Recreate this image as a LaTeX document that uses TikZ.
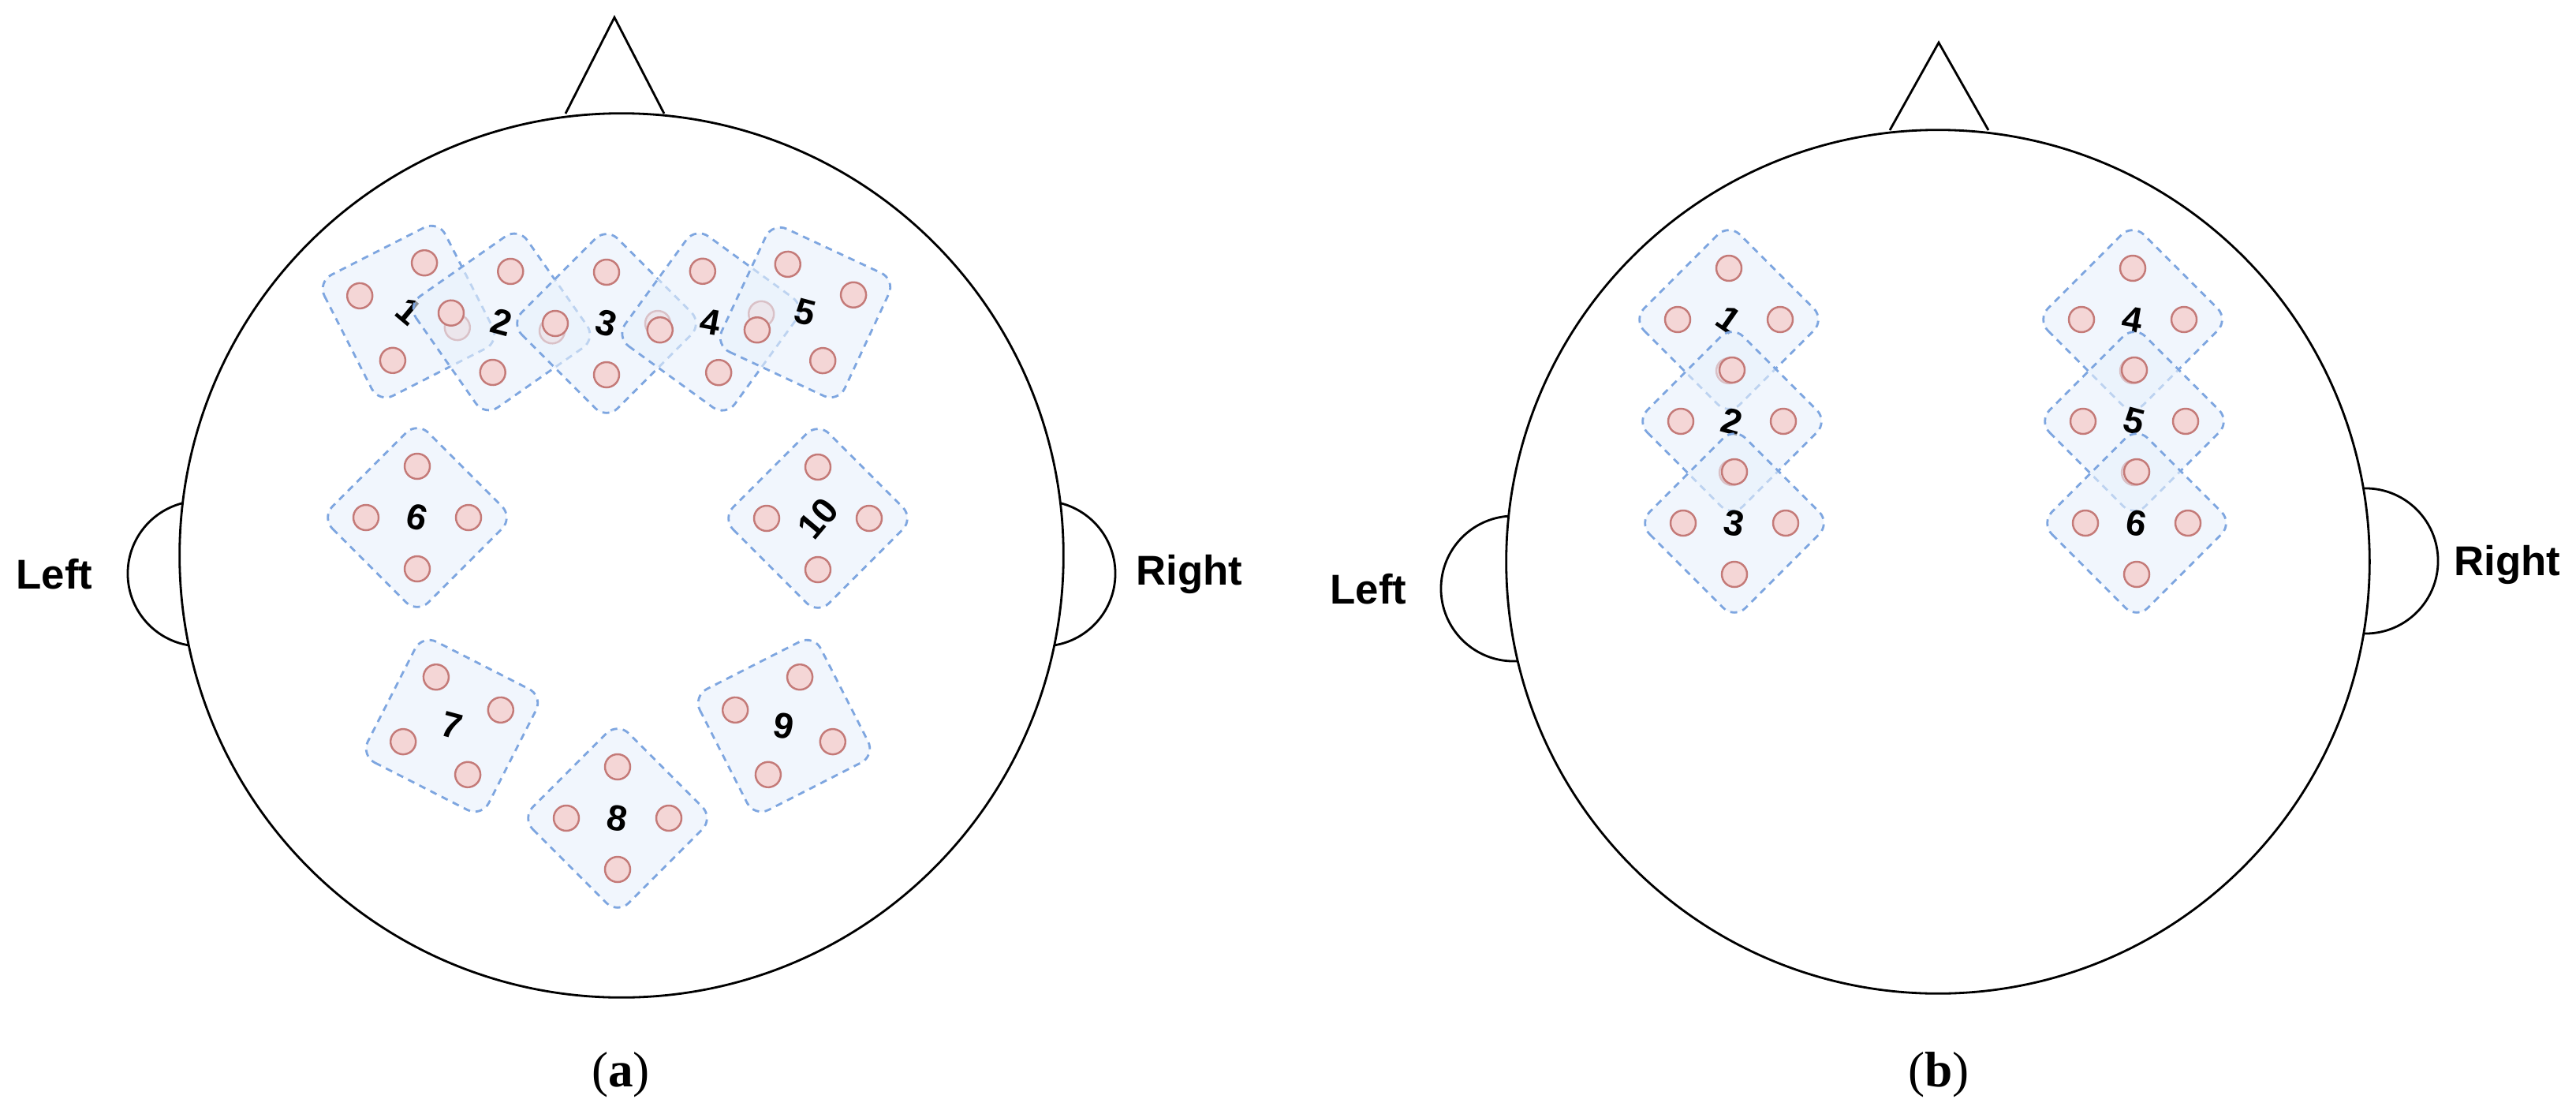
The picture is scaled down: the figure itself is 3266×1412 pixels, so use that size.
\documentclass[tikz,border=0pt]{standalone}
\usepackage{fontspec}
\setmainfont{Liberation Serif}
\newfontfamily\sansb{Liberation Sans}
\usepackage{xcolor}
\definecolor{patchfill}{HTML}{E8F1FC}
\definecolor{patchline}{HTML}{7EA6E0}
\definecolor{optfill}{HTML}{F4D6D6}
\definecolor{optline}{HTML}{C47A78}
\tikzset{
  head/.style={draw=black, line width=0.8pt, fill=white},
  patch/.style={draw=patchline, dashed, dash pattern=on 2.5pt off 2pt, line width=0.8pt, fill=patchfill, fill opacity=0.6, rounded corners=0.2cm},
  optode/.style={draw=optline, line width=0.7pt, fill=optfill},
  num/.style={font=\sansb\bfseries\fontsize{13}{13}\selectfont, inner sep=0pt},
  side/.style={font=\sansb\bfseries\fontsize{15}{15}\selectfont, inner sep=0pt},
  caption/.style={font=\fontsize{18}{20}\selectfont, inner sep=0pt}
}
% one patch: center x, center y, patch angle, label angle, label
\newcommand{\probe}[5]{
  \begin{scope}[shift={(#1,#2)}, rotate=#3]
    \draw[patch, rotate=45] (-86,-86) rectangle (86,86);
    \foreach \dx/\dy in {0/-65, -65/0, 65/0, 0/65}
      \draw[optode] (\dx,\dy) circle (0.16cm);
  \end{scope}
  \node[num, rotate=#4] at (#1,#2) {#5};
}
\begin{document}
\begin{tikzpicture}[x=0.01cm, y=-0.01cm]
\useasboundingbox (0,0) rectangle (3266,1412);

% ---- head (a)
\draw[head] (717,144) -- (779,22) -- (842,144);
\draw[head] (254,727) circle (0.92cm);
\draw[head] (1322,727) circle (0.92cm);
\node[head, circle, minimum size=11.2cm, inner sep=0pt] (ha) at (788,704) {};
\probe{518}{395}{-18}{-40}{1}
\probe{636}{408}{-10}{-15}{2}
\probe{769}{410}{0}{-15}{3}
\probe{901}{408}{9}{-10}{4}
\probe{1021}{396}{20}{-15}{5}
\probe{529}{656}{0}{-15}{6}
\probe{1037}{657}{0}{50}{10}
\probe{573}{920}{18}{-15}{7}
\probe{783}{1037}{0}{-10}{8}
\probe{994}{920}{-18}{-10}{9}
\node[side] (la) at (69,728) {Left};
\node[side] (ra) at (1508,728) {Right};
\node[caption] (ca) at (787,1362) {(\textbf{a})};

% ---- head (b)
\draw[head] (2396,165) -- (2458,54) -- (2521,165);
\draw[head] (1919,746) circle (0.92cm);
\draw[head] (2999,711) circle (0.92cm);
\node[head, circle, minimum size=10.94cm, inner sep=0pt] (hb) at (2457,712) {};
\probe{2192}{405}{0}{-35}{1}
\probe{2196}{534}{0}{-15}{2}
\probe{2199}{663}{0}{-10}{3}
\probe{2704}{405}{0}{-10}{4}
\probe{2706}{534}{0}{-15}{5}
\probe{2709}{663}{0}{-10}{6}
\node[side] (lb) at (1735,747) {Left};
\node[side] (rb) at (3179,716) {Right};
\node[caption] (cb) at (2458,1362) {(\textbf{b})};
\end{tikzpicture}
\end{document}
